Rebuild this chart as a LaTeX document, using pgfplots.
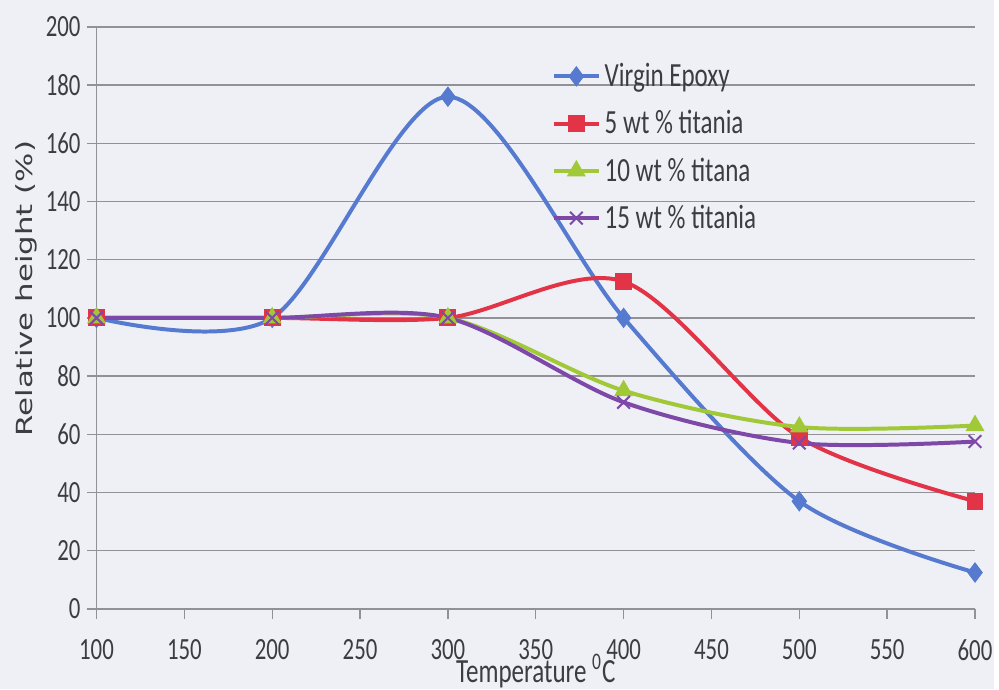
\documentclass[border=0pt]{standalone}
\usepackage{fontspec}
\setmainfont[FakeStretch=0.74]{Carlito}
\newfontfamily\vfont{DejaVu Sans}
\usepackage{graphicx}
\usepackage{pgfplots}
\pgfplotsset{compat=1.18}
\definecolor{bgc}{RGB}{238,240,245}
\definecolor{gridc}{RGB}{145,145,150}
\definecolor{textc}{RGB}{60,60,65}
\definecolor{cblue}{RGB}{85,122,208}
\definecolor{cred}{RGB}{226,52,70}
\definecolor{cgreen}{RGB}{160,200,55}
\definecolor{cpurple}{RGB}{125,72,168}
\begin{document}
\begin{tikzpicture}
\fill[bgc] (-48.5pt,-40.5pt) rectangle (451pt,306pt);
\begin{axis}[
  at={(0,0)}, anchor=south west, scale only axis,
  width=441.5pt, height=292.5pt,
  xmin=100, xmax=600, ymin=0, ymax=200,
  xtick={100,150,...,600}, ytick={0,20,...,200},
  axis x line*=bottom, axis y line*=left,
  axis line style={-, draw=gridc, line width=0.7pt},
  tick align=outside, major tick length=5pt,
  tick style={draw=gridc, line width=0.7pt},
  ymajorgrids, grid style={gridc, line width=0.7pt},
  clip=false,
  /pgf/number format/assume math mode=true,
  ticklabel style={font=\fontsize{15.5}{15.5}\selectfont, text=textc},
  xticklabel style={anchor=north, yshift=-7pt},
  yticklabel style={anchor=east, xshift=0.5pt},
  xlabel={Temperature \textsuperscript{0}C},
  x label style={at={(axis description cs:0.5,-0.126)}, anchor=base, inner sep=0pt, font=\fontsize{17}{17}\selectfont, text=textc},
  ylabel={\scalebox{1}[0.72]{\vfont Relative height (\%)}},
  y label style={at={(axis description cs:-0.08,0.55)}, anchor=center, inner sep=0pt, font=\fontsize{15.5}{15.5}\selectfont, text=textc},
  legend style={at={(axis description cs:0.518,0.945)}, anchor=north west, draw=none, fill=none,
    font=\fontsize{17}{17}\selectfont, text=textc, row sep=6.5pt, inner sep=0pt,
    /tikz/every even column/.append style={column sep=0pt}},
  legend cell align=left,
  legend image code/.code={\draw[mark repeat=2, mark phase=2] plot coordinates {(0pt,0pt)(11.25pt,0pt)(22.5pt,0pt)};},
  every axis plot/.append style={line width=2pt, smooth},
]
\addplot[cblue, mark=diamond*, mark size=4.8pt, mark options={line width=0.5pt}] coordinates {(100,100)(200,100)(300,176)(400,100)(500,37)(600,12.5)};
\addlegendentry{Virgin Epoxy}
\addplot[cred, mark=square*, mark size=4pt, mark options={line width=0.5pt}] coordinates {(100,100)(200,100)(300,100)(400,112.5)(500,59)(600,37)};
\addlegendentry{5 wt \% titania}
\addplot[cgreen, mark=triangle*, mark size=5pt, mark options={line width=0.5pt}] coordinates {(100,100)(200,100)(300,100)(400,75)(500,62.5)(600,63)};
\addlegendentry{10 wt \% titana}
\addplot[cpurple, mark=x, mark size=4.5pt, mark options={line width=1pt}] coordinates {(100,100)(200,100)(300,100)(400,71)(500,57)(600,57.5)};
\addlegendentry{15 wt \% titania}
\end{axis}
\end{tikzpicture}
\end{document}
